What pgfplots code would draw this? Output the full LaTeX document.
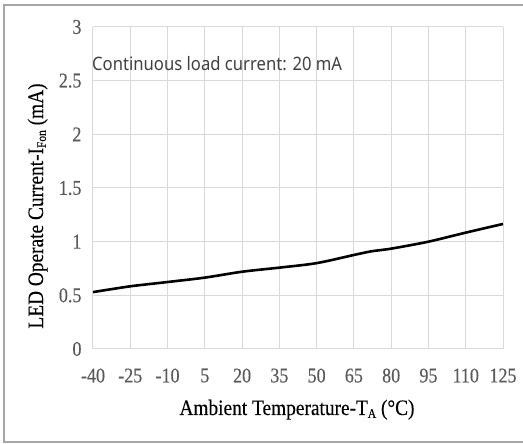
\documentclass[border=0pt]{standalone}
\usepackage{fontspec}
\usepackage{pgfplots}
\pgfplotsset{compat=1.18}
\setmainfont{Liberation Serif}
\newfontfamily\tickfont[FakeStretch=0.86,FakeBold=0.3]{Liberation Serif}
\newfontfamily\titlefont[FakeStretch=0.88,FakeBold=0.2]{Liberation Serif}
\newfontfamily\notefont[FakeStretch=0.9]{Noto Sans}
\definecolor{tickgray}{HTML}{595959}
\definecolor{gridgray}{HTML}{D9D9D9}
\definecolor{framegray}{HTML}{A6A6A6}
\definecolor{notegray}{HTML}{404040}
\newcommand{\sub}[1]{\raisebox{-0.28ex}{\fontsize{13}{13}\selectfont #1}}
\begin{document}
\begin{tikzpicture}[x=1pt,y=1pt]
\useasboundingbox (0,0) rectangle (523,444);
\draw[framegray,line width=1.2pt] (523,2) -- (4,2) -- (4,439) -- (523,439);
\begin{axis}[
  at={(93pt,95pt)}, anchor=south west,
  scale only axis, width=410pt, height=322pt,
  xmin=-40, xmax=125, ymin=0, ymax=3,
  xtick={-40,-25,...,125}, ytick={0,0.5,...,3},
  grid=major,
  major grid style={gridgray, line width=1pt},
  axis line style={draw=none},
  tick style={draw=none},
  tick label style={tickgray},
  xticklabel style={font=\tickfont\fontsize{21}{21}\selectfont, yshift=-16pt},
  yticklabel style={font=\tickfont\fontsize{21}{21}\selectfont, xshift=-8pt},
  /pgf/number format/assume math mode=true,
  yticklabel={\pgfmathprintnumber[fixed,precision=1]{\tick}},
  clip=false,
]
\addplot[black, line width=2.6pt, smooth] coordinates {
(-40,0.53) (-25,0.584) (-10,0.624) (5,0.665) (20,0.72) (35,0.758) (50,0.80)
(65,0.876) (72,0.91) (80,0.935) (95,1.00) (110,1.084) (125,1.165)
};
\end{axis}
\node[anchor=base west, notegray, font=\notefont\fontsize{18.5}{18.5}\selectfont, inner sep=0pt] at (92,373) {Continuous load current: 20 mA};
\node[anchor=base, black, font=\titlefont\fontsize{22}{22}\selectfont, inner sep=0pt] at (297,29) {Ambient Temperature-T\sub{A} (°C)};
\node[anchor=base, rotate=90, black, font=\titlefont\fontsize{22}{22}\selectfont, inner sep=0pt] at (43,238) {LED Operate Current-I\sub{Fon} (mA)};
\end{tikzpicture}
\end{document}
